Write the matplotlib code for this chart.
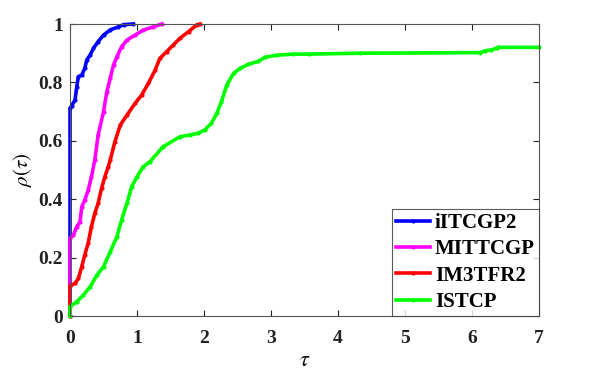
import matplotlib
matplotlib.use('Agg')
import matplotlib.pyplot as plt

# performance profile data
labels = ['iITCGP2', 'MITTCGP', 'IM3TFR2', 'ISTCP']
colors = ['#0000FF', '#FF00FF', '#FF0000', '#00FF00']

tau_blue = [0, 0, 0.025, 0.075, 0.1, 0.125, 0.175, 0.22, 0.25, 0.3, 0.35, 0.42, 0.5, 0.6, 0.72, 0.8, 0.945]
rho_blue = [0, 0.712, 0.72, 0.74, 0.785, 0.82, 0.825, 0.848, 0.877, 0.894, 0.917, 0.94, 0.962, 0.98, 0.99, 0.998, 1.0]

tau_pink = [0, 0, 0.05, 0.1, 0.15, 0.175, 0.22, 0.27, 0.32, 0.37, 0.42, 0.5, 0.55, 0.6, 0.65, 0.7,
            0.77, 0.85, 0.97, 1.09, 1.24, 1.37]
rho_pink = [0, 0.266, 0.277, 0.306, 0.323, 0.374, 0.397, 0.43, 0.477, 0.534, 0.62, 0.70, 0.768, 0.814,
            0.86, 0.888, 0.922, 0.945, 0.962, 0.979, 0.99, 1.0]

tau_red = [0, 0, 0.075, 0.125, 0.175, 0.22, 0.27, 0.32, 0.37, 0.42, 0.47, 0.52, 0.57, 0.6, 0.67, 0.75,
           0.85, 0.97, 1.07, 1.17, 1.27, 1.34, 1.44, 1.54, 1.64, 1.77, 1.89, 1.94]
rho_red = [0, 0.103, 0.112, 0.129, 0.169, 0.209, 0.249, 0.306, 0.352, 0.386, 0.437, 0.477, 0.511, 0.534,
           0.597, 0.654, 0.688, 0.728, 0.757, 0.797, 0.842, 0.882, 0.905, 0.928, 0.951, 0.974, 0.997, 1.0]

tau_green = [0, 0, 0.1, 0.2, 0.3, 0.4, 0.5, 0.6, 0.7, 0.77, 0.85, 0.92, 1.0, 1.09, 1.19, 1.39, 1.64,
             1.79, 1.91, 2.01, 2.11, 2.19, 2.26, 2.34, 2.44, 2.54, 2.66, 2.81, 2.91, 3.08, 3.33, 3.56,
             4.33, 6.12, 6.19, 6.28, 6.37, 6.39, 7.0]
rho_green = [0, 0.032, 0.049, 0.072, 0.1, 0.14, 0.169, 0.22, 0.272, 0.329, 0.386, 0.443, 0.477, 0.511,
             0.528, 0.58, 0.614, 0.62, 0.626, 0.637, 0.66, 0.694, 0.734, 0.791, 0.831, 0.848, 0.862,
             0.872, 0.886, 0.893, 0.897, 0.897, 0.90, 0.902, 0.908, 0.911, 0.917, 0.92, 0.92]

plt.rcParams['font.family'] = ['Liberation Serif', 'DejaVu Serif']
plt.rcParams['mathtext.fontset'] = 'stix'

fig = plt.figure(figsize=(6.11, 3.86), dpi=100)
ax = fig.add_axes([0.1146, 0.1813, 0.7676, 0.7565])

series = [(tau_blue, rho_blue), (tau_pink, rho_pink), (tau_red, rho_red), (tau_green, rho_green)]
for (t, r), lab, c in zip(series, labels, colors):
    ax.plot(t, r, color=c, linestyle='-', linewidth=2.6, marker='.', markersize=4, label=lab,
            clip_on=False)

ax.set_xlim(0, 7)
ax.set_ylim(0, 1)
ax.set_xticks(range(0, 8))
ax.set_yticks([0, 0.2, 0.4, 0.6, 0.8, 1])
ax.set_yticklabels(['0', '0.2', '0.4', '0.6', '0.8', '1'])
ax.tick_params(direction='in', length=4, top=True, right=True, labelsize=14, colors='#222222')
ax.tick_params(axis='x', pad=10)
ax.tick_params(axis='y', pad=5)
for lbl in ax.get_xticklabels() + ax.get_yticklabels():
    lbl.set_fontweight('bold')
for s in ax.spines.values():
    s.set_color('#555555')
    s.set_linewidth(0.8)

ax.set_xlabel(r'$\tau$', fontsize=16, labelpad=4)
ax.set_ylabel(r'$\rho(\tau)$', fontsize=15, labelpad=3)

leg = ax.legend(loc='lower right', fontsize=15, frameon=True, fancybox=False, borderaxespad=0,
                handlelength=1.6, handletextpad=0.25, labelspacing=0.3, borderpad=0.2)
leg.get_frame().set_edgecolor('#333333')
leg.get_frame().set_linewidth(0.8)
for txt in leg.get_texts():
    txt.set_fontweight('bold')

fig.savefig('out.png', dpi=100)
